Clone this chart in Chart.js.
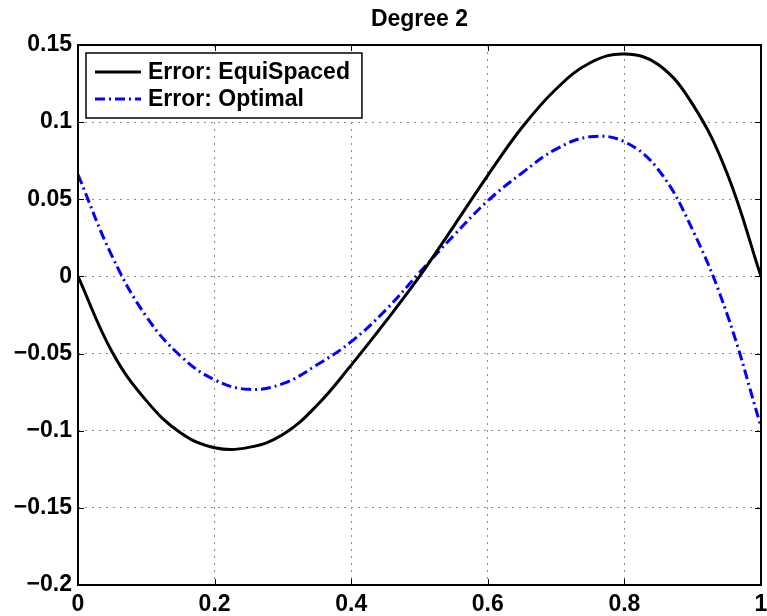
<!DOCTYPE html>
<html>
<head>
<meta charset="utf-8">
<script src="https://cdn.jsdelivr.net/npm/chart.js@4.4.0/dist/chart.umd.min.js"></script>
<style>
html,body{margin:0;padding:0;background:#fff;}
#wrap{width:767px;height:616px;}
canvas{display:block;}
</style>
</head>
<body>
<div id="wrap"><canvas id="c" width="767" height="616"></canvas></div>
<script>
// ---- data ----
const titleText = 'Degree 2';
const seriesNames = ['Error: EquiSpaced', 'Error: Optimal'];

const xValues = [0, 0.05, 0.1, 0.15, 0.2, 0.25, 0.3, 0.35, 0.4, 0.45, 0.5, 0.55, 0.6, 0.65, 0.7, 0.75, 0.8, 0.85, 0.9, 0.95, 1];
const equiY = [0, -0.049, -0.0805, -0.1013, -0.111, -0.1108, -0.1025, -0.0835, -0.0575, -0.0295, 0, 0.0325, 0.0655, 0.0965, 0.1215, 0.1385, 0.1441, 0.1372, 0.1115, 0.0672, 0];
const optY = [0.066, 0.013, -0.026, -0.0515, -0.067, -0.0732, -0.0695, -0.0573, -0.0423, -0.022, 0.0025, 0.0265, 0.049, 0.067, 0.0825, 0.0905, 0.0873, 0.069, 0.030, -0.024, -0.0974];

const xTicks = [0, 0.2, 0.4, 0.6, 0.8, 1];
const xTickLabels = ['0', '0.2', '0.4', '0.6', '0.8', '1'];
const yTicks = [-0.2, -0.15, -0.1, -0.05, 0, 0.05, 0.1, 0.15];
const yTickLabels = ['\u22120.2', '\u22120.15', '\u22120.1', '\u22120.05', '0', '0.05', '0.1', '0.15'];

// ---- build ----
const FONT = '"Liberation Sans", Arial, Helvetica, sans-serif';
const FSIZE = 23;
const toPts = (xs, ys) => xs.map((v, i) => ({x: v, y: ys[i]}));

const framePlugin = {
  id: 'frameAndLegend',
  afterDatasetsDraw(chart) {
    const {ctx, chartArea: a, scales} = chart;
    const xs = scales.x, ys = scales.y;
    ctx.save();
    ctx.setLineDash([]);
    ctx.strokeStyle = '#000';
    // inside tick marks on all four sides
    ctx.lineWidth = 1;
    const L = 6;
    ctx.beginPath();
    xs.ticks.forEach(t => {
      const p = Math.round(xs.getPixelForValue(t.value)) + 0.5;
      ctx.moveTo(p, a.bottom); ctx.lineTo(p, a.bottom - L);
      ctx.moveTo(p, a.top); ctx.lineTo(p, a.top + L);
    });
    ys.ticks.forEach(t => {
      const p = Math.round(ys.getPixelForValue(t.value)) + 0.5;
      ctx.moveTo(a.left, p); ctx.lineTo(a.left + L, p);
      ctx.moveTo(a.right, p); ctx.lineTo(a.right - L, p);
    });
    ctx.stroke();
    // axes box
    ctx.lineWidth = 2;
    ctx.strokeRect(a.left, a.top, a.right - a.left, a.bottom - a.top);

    // title centred over the axes
    ctx.font = 'bold ' + FSIZE + 'px ' + FONT;
    ctx.fillStyle = '#000';
    ctx.textAlign = 'center';
    ctx.textBaseline = 'alphabetic';
    ctx.fillText(titleText, (a.left + a.right) / 2, 26);

    // legend box (upper-left, inside the axes)
    const ds = chart.data.datasets;
    let tw = 0;
    ds.forEach(d => { tw = Math.max(tw, ctx.measureText(d.label).width); });
    const bx = a.left + 8, by = a.top + 8;
    const bw = 62 + tw + 12, bh = 65;
    ctx.fillStyle = '#fff';
    ctx.fillRect(bx, by, bw, bh);
    ctx.lineWidth = 1.5;
    ctx.strokeStyle = '#000';
    ctx.strokeRect(bx, by, bw, bh);
    ds.forEach((d, i) => {
      const cy = by + 19 + i * 27;
      ctx.save();
      ctx.strokeStyle = d.borderColor;
      ctx.lineWidth = d.borderWidth;
      ctx.setLineDash(d.borderDash || []);
      ctx.beginPath();
      ctx.moveTo(bx + 9, cy); ctx.lineTo(bx + 55, cy);
      ctx.stroke();
      ctx.restore();
      ctx.fillStyle = '#000';
      ctx.textBaseline = 'middle';
      ctx.textAlign = 'left';
      ctx.fillText(d.label, bx + 62, cy + 1);
    });
    ctx.restore();
  }
};

new Chart(document.getElementById('c'), {
  type: 'line',
  data: {
    datasets: [
      {
        label: seriesNames[0],
        data: toPts(xValues, equiY),
        borderColor: '#000000',
        borderWidth: 3,
        pointRadius: 0,
        fill: false,
        tension: 0.4
      },
      {
        label: seriesNames[1],
        data: toPts(xValues, optY),
        borderColor: '#0000ff',
        borderWidth: 3,
        borderDash: [10, 4, 2, 4],
        borderCapStyle: 'butt',
        pointRadius: 0,
        fill: false,
        tension: 0.4
      }
    ]
  },
  options: {
    responsive: false,
    devicePixelRatio: 1,
    animation: false,
    layout: {padding: {left: 0, right: 6, top: 45, bottom: 0}},
    plugins: {
      legend: {display: false},
      tooltip: {enabled: false},
      title: {display: false}
    },
    scales: {
      x: {
        type: 'linear',
        min: 0, max: 1,
        afterBuildTicks: s => { s.ticks = xTicks.map(v => ({value: v})); },
        afterFit: s => { s.height = 31; s.paddingLeft = 0; s.paddingRight = 0; },
        ticks: {
          color: '#000',
          font: {family: FONT, size: FSIZE, weight: 'bold'},
          padding: 6,
          maxRotation: 0,
          autoSkip: false,
          callback: (v, i) => xTickLabels[i]
        },
        grid: {color: '#8c8c8c', lineWidth: 1, drawTicks: false},
        border: {display: false, dash: [2, 5]}
      },
      y: {
        type: 'linear',
        min: -0.2, max: 0.15,
        afterBuildTicks: s => { s.ticks = yTicks.map(v => ({value: v})); },
        afterFit: s => { s.width = 78; s.paddingTop = 0; s.paddingBottom = 0; },
        ticks: {
          color: '#000',
          font: {family: FONT, size: FSIZE, weight: 'bold'},
          padding: 6,
          autoSkip: false,
          callback: (v, i) => yTickLabels[i]
        },
        grid: {color: '#8c8c8c', lineWidth: 1, drawTicks: false},
        border: {display: false, dash: [2, 5]}
      }
    }
  },
  plugins: [framePlugin]
});
</script>
</body>
</html>
